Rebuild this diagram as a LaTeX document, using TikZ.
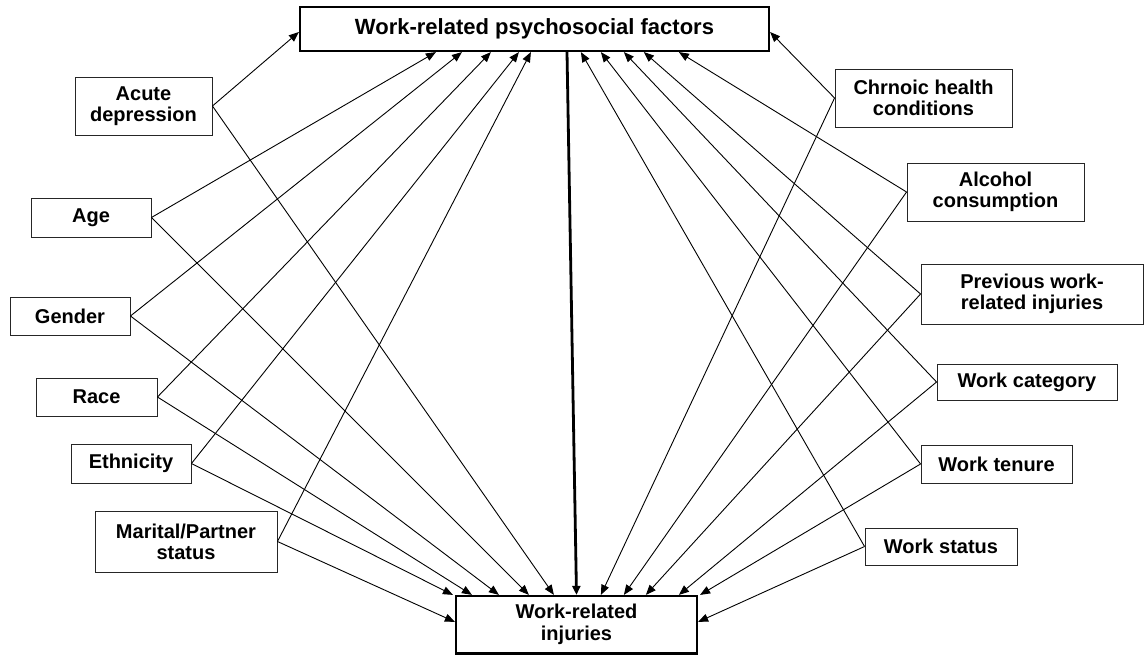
\documentclass[tikz,border=0pt]{standalone}
\usepackage{fontspec}
\setmainfont{Liberation Sans}
\usetikzlibrary{arrows.meta}
\begin{document}
\begin{tikzpicture}[x=1pt,y=-1pt,
  box/.style={draw=black!85, line width=0.9pt, align=center, inner sep=0pt,
    font=\fontsize{20}{21}\selectfont\bfseries},
  mainbox/.style={draw=black, line width=2.2pt, align=center, inner sep=0pt},
  link/.style={line width=0.9pt, -{Triangle[length=10pt,width=8pt]}},
  boldlink/.style={line width=2.8pt, -{Triangle[length=9pt,width=8pt]}}
]
\useasboundingbox (0,0) rectangle (1144,655);

% main boxes
\node[mainbox, minimum width=469pt, minimum height=44pt,
  font=\fontsize{22}{24}\selectfont\bfseries] (top) at (534.5,29) {Work-related psychosocial factors};
\node[mainbox, minimum width=241pt, minimum height=57.5pt,
  font=\fontsize{20}{22}\selectfont\bfseries] (bot) at (576.5,624.75) {Work-related\\injuries};

% left boxes
\node[box, minimum width=137pt, minimum height=58pt] (acute) at (143.5,106) {Acute\\depression};
\node[box, minimum width=120pt, minimum height=39pt] (age) at (91,217.5) {Age};
\node[box, minimum width=120pt, minimum height=38pt] (gender) at (70,316) {Gender};
\node[box, minimum width=121pt, minimum height=38pt] (race) at (96.5,397) {Race};
\node[box, minimum width=120pt, minimum height=39pt] (eth) at (131,463.5) {Ethnicity};
\node[box, minimum width=182pt, minimum height=61pt] (marital) at (186,541.5) {Marital/Partner\\status};

% right boxes
\node[box, minimum width=177pt, minimum height=58pt] (chronic) at (923.5,98) {Chrnoic health\\conditions};
\node[box, minimum width=177pt, minimum height=58pt] (alcohol) at (995.5,192) {Alcohol\\consumption};
\node[box, minimum width=222pt, minimum height=60pt] (prev) at (1032,294) {Previous work-\\related injuries};
\node[box, minimum width=180pt, minimum height=36pt] (wcat) at (1027,382) {Work category};
\node[box, minimum width=151pt, minimum height=38pt] (wten) at (996.5,464) {Work tenure};
\node[box, minimum width=152pt, minimum height=37pt] (wstat) at (941,546.5) {Work status};

% left connectors
\draw[link] (acute.east) -- ([yshift=-3pt]top.west);
\draw[link] (acute.east) -- ([xshift=99pt]bot.north west);
\draw[link] (age.east) -- ([xshift=137pt]top.south west);
\draw[link] (age.east) -- ([xshift=74pt]bot.north west);
\draw[link] (gender.east) -- ([xshift=163pt]top.south west);
\draw[link] (gender.east) -- ([xshift=44pt]bot.north west);
\draw[link] (race.east) -- ([xshift=192pt]top.south west);
\draw[link] (race.east) -- ([xshift=17pt]bot.north west);
\draw[link] (eth.east) -- ([xshift=220pt]top.south west);
\draw[link] (eth.east) -- ([xshift=-2pt]bot.north west);
\draw[link] (marital.east) -- ([xshift=232pt]top.south west);
\draw[link] (marital.east) -- ([yshift=-27pt]bot.north west);

% right connectors
\draw[link] (chronic.west) -- ([yshift=-3pt]top.east);
\draw[link] (chronic.west) -- ([xshift=146pt]bot.north west);
\draw[link] (alcohol.west) -- ([xshift=380pt]top.south west);
\draw[link] (alcohol.west) -- ([xshift=169pt]bot.north west);
\draw[link] (prev.west) -- ([xshift=345pt]top.south west);
\draw[link] (prev.west) -- ([xshift=191pt]bot.north west);
\draw[link] (wcat.west) -- ([xshift=325pt]top.south west);
\draw[link] (wcat.west) -- ([xshift=224pt]bot.north west);
\draw[link] (wten.west) -- ([xshift=302pt]top.south west);
\draw[link] (wten.west) -- ([xshift=2pt]bot.north east);
\draw[link] (wstat.west) -- ([xshift=282pt]top.south west);
\draw[link] (wstat.west) -- ([yshift=-27pt]bot.north east);

% main link
\draw[boldlink] ([xshift=32.5pt]top.south) -- (bot.north);
\end{tikzpicture}
\end{document}
